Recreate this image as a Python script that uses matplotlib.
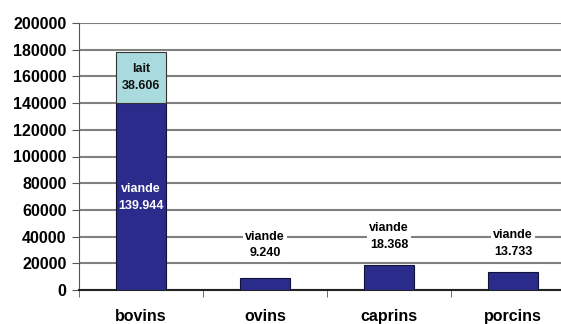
import numpy as np
import matplotlib.pyplot as plt

categories = ['bovins', 'ovins', 'caprins', 'porcins']
viande = [139944, 9240, 18368, 13733]
lait = [38606, 0, 0, 0]
viande_labels = ['139.944', '9.240', '18.368', '13.733']
lait_labels = ['38.606', '', '', '']
label_y = [69500, 33700, 40400, 34500]

plt.rcParams['font.family'] = ['Liberation Sans', 'DejaVu Sans']

fig = plt.figure(figsize=(5.61, 3.24), dpi=100)
ax = fig.add_axes([79 / 561, 34 / 324, 496 / 561, 267 / 324])

x = np.arange(len(categories))
navy = '#2b2b8c'
light = '#a9dade'
ax.bar(x, viande, width=0.4, color=navy, edgecolor='#111133', linewidth=0.8, zorder=3)
ax.bar(x[:1], lait[:1], bottom=viande[:1], width=0.4, color=light,
       edgecolor='#333333', linewidth=0.8, zorder=3)

for i in range(len(categories)):
    inside = viande[i] > 60000
    ax.text(x[i], label_y[i], 'viande\n' + viande_labels[i], ha='center', va='center',
            fontsize=9, fontweight='bold', linespacing=1.55,
            color='white' if inside else 'black', zorder=5,
            bbox=None if inside else dict(facecolor='white', edgecolor='none', pad=1.5))
    if lait[i]:
        ax.text(x[i], viande[i] + lait[i] / 2, 'lait\n' + lait_labels[i], ha='center',
                va='center', fontsize=9, fontweight='bold',
                linespacing=1.55, color='#111111', zorder=5)

ax.set_xlim(-0.5, 3.5)
ax.set_ylim(0, 200000)
ax.set_yticks(np.arange(0, 200001, 20000))
ax.set_yticklabels([str(v) for v in range(0, 200001, 20000)], fontsize=11.5, fontweight='bold')
ax.set_xticks(x)
ax.set_xticklabels(categories, fontsize=11.5, fontweight='bold')
ax.set_xticks(np.arange(-0.5, 4, 1), minor=True)
ax.tick_params(axis='x', which='major', length=0, pad=14)
ax.tick_params(axis='x', which='minor', length=5, color='#555555')
ax.tick_params(axis='y', length=5, color='#555555', pad=4)
ax.yaxis.grid(True, color='#808080', linewidth=1.5, zorder=0)
ax.set_axisbelow(True)
for s in ['top', 'right']:
    ax.spines[s].set_visible(False)
ax.spines['left'].set_color('#555555')
ax.spines['bottom'].set_color('#222222')
ax.spines['bottom'].set_linewidth(1.5)

fig.savefig('out.png', dpi=100)
